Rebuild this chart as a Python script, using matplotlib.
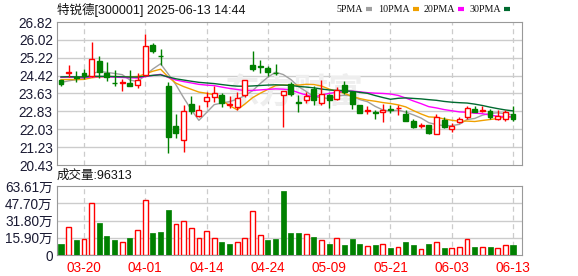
import matplotlib
matplotlib.use("Agg")
import matplotlib.pyplot as plt
from matplotlib.lines import Line2D
import numpy as np
import pandas as pd

plt.rcParams['font.family'] = ['Liberation Sans', 'Noto Sans CJK SC', 'DejaVu Sans']

# 60 trading days, 2025-03-17 .. 2025-06-13
tick_pos = [3, 11, 19, 27, 35, 43, 51, 59]
tick_labels = ['03-20', '04-01', '04-14', '04-24', '05-09', '05-21', '06-03', '06-13']

opens = [24.22, 24.55, 24.37, 24.55, 24.40, 25.07, 24.55, 24.11, 24.10, 24.10,
         23.99, 24.44, 25.78, 25.32, 23.95, 22.17, 21.54, 23.18, 22.63, 23.30,
         23.45, 23.55, 23.12, 23.03, 23.55, 24.92, 24.84, 24.78, 24.56, 23.55,
         24.04, 23.25, 23.33, 23.85, 23.22, 23.55, 23.37, 24.03, 23.70, 23.10,
         22.84, 22.79, 22.78, 22.93, 22.97, 22.73, 22.39, 22.17, 22.21, 21.84,
         22.44, 22.05, 22.36, 22.58, 22.93, 22.84, 22.85, 22.49, 22.48, 22.70]
closes = [24.07, 24.57, 24.32, 24.40, 25.18, 24.59, 24.37, 24.08, 24.13, 23.98,
          24.25, 25.73, 25.53, 25.29, 21.69, 21.87, 22.84, 22.85, 22.88, 23.45,
          23.63, 23.21, 23.15, 23.43, 24.25, 24.71, 24.81, 24.59, 24.54, 23.73,
          23.60, 23.22, 23.51, 23.33, 23.59, 23.33, 23.80, 23.70, 23.18, 22.76,
          22.87, 22.76, 22.91, 22.90, 23.00, 22.41, 22.14, 22.20, 21.87, 22.58,
          22.14, 22.17, 22.48, 22.96, 22.81, 22.87, 22.58, 22.61, 22.78, 22.49]
highs = [24.25, 24.89, 24.62, 24.74, 25.91, 25.29, 25.05, 24.66, 24.29, 24.69,
         24.56, 26.30, 25.90, 25.63, 24.14, 22.73, 23.10, 23.51, 23.10, 23.70,
         23.95, 23.66, 23.51, 23.70, 24.25, 25.53, 25.11, 24.84, 24.93, 23.73,
         24.15, 23.55, 23.70, 23.95, 24.22, 23.62, 23.92, 24.17, 23.70, 23.10,
         23.08, 22.88, 23.18, 23.10, 23.10, 22.88, 22.47, 22.29, 22.21, 22.73,
         22.58, 22.29, 22.57, 23.06, 23.06, 23.09, 22.93, 22.88, 22.91, 23.06]
lows = [23.98, 24.37, 24.14, 24.29, 24.38, 24.34, 24.19, 23.97, 23.74, 23.95,
        23.88, 24.42, 25.45, 24.89, 20.98, 21.62, 21.02, 22.70, 22.58, 23.03,
        23.25, 23.03, 22.98, 22.88, 23.45, 24.62, 24.55, 24.40, 24.44, 22.14,
        23.51, 22.81, 23.21, 23.10, 23.10, 23.00, 23.33, 23.60, 22.93, 22.76,
        22.70, 22.51, 22.36, 22.76, 22.66, 22.41, 22.09, 22.09, 21.83, 21.84,
        22.09, 21.92, 22.33, 22.48, 22.81, 22.81, 22.48, 22.44, 22.39, 22.41]
# volume in 万手
volumes = [10.1, 25.5, 13.8, 14.4, 47.6, 29.5, 17.5, 13.8, 11.7, 15.7,
           22.7, 50.4, 20.3, 21.2, 41.5, 28.3, 31.0, 24.6, 15.4, 21.8,
           15.4, 12.0, 10.1, 12.0, 15.4, 40.3, 18.1, 13.8, 14.8, 59.0,
           20.6, 20.6, 19.4, 16.6, 13.8, 10.1, 15.4, 9.2, 14.8, 10.1,
           8.0, 9.2, 10.1, 6.8, 7.4, 12.3, 9.2, 5.5, 10.1, 12.0,
           6.8, 6.8, 7.4, 14.8, 7.4, 7.4, 7.4, 6.5, 9.2, 9.63]
# closes before the visible window (needed for the moving averages)
prior_closes = [24.30, 24.52, 24.45, 24.38, 24.60, 24.48, 24.35, 24.40, 24.28, 24.34,
                24.42, 24.55, 24.62, 24.48, 24.36, 24.50, 24.44, 24.38, 24.30, 24.45,
                24.52, 24.40, 24.30, 24.45, 24.23, 24.20, 24.05, 24.18, 24.10]

ma_periods = [5, 10, 20, 30]
ma_colors = ['#a0a0a0', '#f0a000', '#ff00ff', '#006a30']
ma_names = ['5PMA', '10PMA', '20PMA', '30PMA']

price_ticks = [20.43, 21.23, 22.03, 22.83, 23.63, 24.42, 25.22, 26.02, 26.82]
vol_ticks = [0, 15.90, 31.80, 47.70, 63.61]

RED = '#ff0000'
GREEN = '#008000'
GRID = '#cccccc'
EDGE = '#999999'

n = len(closes)
x = np.arange(n)

fig = plt.figure(figsize=(5.78, 2.76), dpi=100)
ax = fig.add_axes([0.0986, 0.402, 0.8045, 0.518])
axv = fig.add_axes([0.0986, 0.076, 0.8045, 0.250])

for a in (ax, axv):
    a.set_xlim(-0.52, 60.17)
    for s in a.spines.values():
        s.set_color(EDGE)
    a.tick_params(length=0, labelsize=9.8, colors='#1a1a33', pad=3)
    for t in tick_pos:
        a.axvline(t, color=GRID, lw=0.9, ls=(0, (4, 3)), zorder=0)

# price panel
ax.set_ylim(price_ticks[0], price_ticks[-1])
ax.set_yticks(price_ticks)
ax.set_yticklabels(['%.2f' % v for v in price_ticks])
ax.set_xticks([])
for v in price_ticks[1:-1]:
    ax.axhline(v, color=GRID, lw=1.0, zorder=0)

ax.text(30.5, 23.7, '东方财富', fontsize=25, color='#eeeeee', ha='center', va='center',
        family=['Noto Sans CJK SC'], fontweight='bold', zorder=0)

all_close = pd.Series(prior_closes + closes)
for p, c in zip(ma_periods, ma_colors):
    ma = all_close.rolling(p).mean().values[-n:]
    ax.plot(x, ma, color=c, lw=1.0, zorder=2)

w = 0.64
for i in range(n):
    o, c, h, l = opens[i], closes[i], highs[i], lows[i]
    up = c >= o
    col = RED if up else GREEN
    ax.vlines(i, l, h, color=col, lw=1.0, zorder=3)
    bottom = min(o, c)
    height = max(abs(c - o), 0.015)
    ax.bar(i, height, w, bottom=bottom, facecolor='white' if up else GREEN,
           edgecolor=col, lw=1.0, zorder=4)

# volume panel
axv.set_ylim(0, vol_ticks[-1])
axv.set_yticks(vol_ticks)
axv.set_yticklabels(['0'] + ['%.2f万' % v for v in vol_ticks[1:]])
for v in vol_ticks[1:-1]:
    axv.axhline(v, color=GRID, lw=1.0, zorder=0)
axv.set_xticks(tick_pos)
axv.set_xticklabels(tick_labels, color=RED, fontsize=9.8)
axv.tick_params(axis='x', pad=4, labelcolor=RED)

prev = [prior_closes[-1] + 1] + closes[:-1]
for i in range(n):
    if closes[i] >= prev[i]:
        axv.bar(i, volumes[i], 0.62, facecolor='white', edgecolor=RED, lw=1.0, zorder=3)
    else:
        axv.bar(i, volumes[i], 0.66, facecolor=GREEN, edgecolor=GREEN, lw=0.5, zorder=3)

# header texts
fig.text(0.0986, 0.965, '特锐德[300001] 2025-06-13 14:44', fontsize=9, ha='left',
         va='center', color='#111111')
fig.text(0.0986, 0.362, '成交量:96313', fontsize=9, ha='left', va='center', color='#111111')

# legend: text right edge, then a short colour dash
leg_end = [363, 410, 455, 501]
for lx, name, c in zip(leg_end, ma_names, ma_colors):
    fig.text(lx / 578, 1 - 9 / 276, name, fontsize=7.2, ha='right', va='center',
             family=['Liberation Serif'], color='#111111')
    fig.add_artist(Line2D([(lx + 3) / 578, (lx + 9) / 578], [1 - 9 / 276] * 2,
                          color=c, lw=3, solid_capstyle='butt'))

fig.savefig('out.png', dpi=100)
